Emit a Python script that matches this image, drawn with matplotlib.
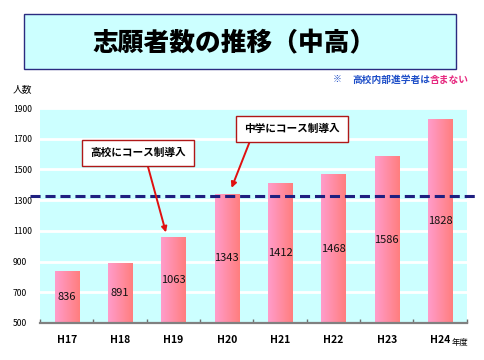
import numpy as np
import matplotlib
matplotlib.use('Agg')
import matplotlib.pyplot as plt
from matplotlib.patches import Rectangle
from matplotlib.colors import LinearSegmentedColormap

plt.rcParams['font.family'] = ['Noto Sans CJK JP', 'DejaVu Sans']

# --- data ---
years = ['H17', 'H18', 'H19', 'H20', 'H21', 'H22', 'H23', 'H24']
applicants = [836, 891, 1063, 1343, 1412, 1468, 1586, 1828]
y_ticks = [500, 700, 900, 1100, 1300, 1500, 1700, 1900]
ref_level = 1330
notes = [('高校にコース制導入', 'H19'), ('中学にコース制導入', 'H20')]

base = 500
fig = plt.figure(figsize=(4.85, 3.6), dpi=100)
fig.patch.set_facecolor('white')

# title box
fig.patches.append(Rectangle((0.0495, 0.808), 0.891, 0.153, transform=fig.transFigure,
                             facecolor='#CCFFFF', edgecolor='#2B2B80', lw=1.0))
fig.text(0.4825, 0.879, '志願者数の推移（中高）', ha='center', va='center',
         fontsize=18.5, fontweight='black', color='black')

# note line
fig.text(0.6866, 0.778, '※', ha='left', va='center', fontsize=6.5, color='#1F4FC8')
fig.text(0.7258, 0.778, '高校内部進学者は', ha='left', va='center', fontsize=7.0,
         fontweight='bold', color='#1F4FC8')
fig.text(0.8866, 0.778, '含まない', ha='left', va='center', fontsize=7.0,
         fontweight='bold', color='#E6287F')
fig.text(0.027, 0.753, '人数', ha='left', va='center', fontsize=7)

ax = fig.add_axes([0.0825, 0.1028, 0.880, 0.597])
ax.set_facecolor('#CCFFFF')
ax.set_axisbelow(True)

x = np.arange(len(years))
vals = np.array(applicants)
bars = ax.bar(x, vals - base, bottom=base, width=0.45, color='none', zorder=2)

cmap = LinearSegmentedColormap.from_list('barfill', ['#FF9CCB', '#FF7E7E'])
grad = np.linspace(0, 1, 64).reshape(1, -1)
for rect, v in zip(bars, vals):
    x0 = rect.get_x()
    x1 = x0 + rect.get_width()
    im = ax.imshow(grad, cmap=cmap, extent=[x0, x1, base, v], aspect='auto',
                   interpolation='bilinear', zorder=2)
    im.set_clip_path(rect)
    ax.text(rect.get_x() + rect.get_width() / 2, (base + v) / 2, str(v),
            ha='center', va='center', fontsize=8, color='#111111', zorder=4)

ax.set_xlim(-0.5, len(years) - 0.5)
ax.set_ylim(y_ticks[0], y_ticks[-1])

ax.set_yticks(y_ticks)
ax.set_yticklabels([str(t) for t in y_ticks], fontsize=6.2)
for lab in ax.get_yticklabels():
    lab.set_ha('left')
ax.tick_params(axis='y', length=0, pad=19.5)
ax.grid(axis='y', color='white', lw=2)

ax.set_xticks(x)
ax.set_xticklabels(years, fontsize=7.5, fontweight='bold')
ax.set_xticks(np.arange(-0.5, len(years)), minor=True)
ax.tick_params(axis='x', which='major', length=0, pad=9)
ax.tick_params(axis='x', which='minor', length=3, direction='in', color='#707070', width=1)

for s in ['left', 'right', 'top']:
    ax.spines[s].set_visible(False)
ax.spines['bottom'].set_color('#808080')
ax.spines['bottom'].set_linewidth(1.6)

# reference dashed line
ax.axhline(ref_level, xmin=-0.023, xmax=1.02, color='#1F1F80', lw=2.2,
           dashes=(3.3, 1.6), clip_on=False, zorder=5)

fig.text(0.931, 0.05, '年度', ha='left', va='center', fontsize=6.0)

# annotations
box = dict(boxstyle='square,pad=0.75', fc='white', ec='#B01818', lw=1.0)
pos = {'H19': ((years.index('H19') - 0.14, 1090), (0.2845, 0.575), 0.58),
       'H20': ((years.index('H20') + 0.09, 1380), (0.602, 0.642), 0.09)}
for text, yr in notes:
    xy, xytext, rx = pos[yr]
    ax.annotate(text, xy=xy, xytext=xytext, textcoords='figure fraction',
                ha='center', va='center', fontsize=7.7, fontweight='bold',
                bbox=box, zorder=6,
                arrowprops=dict(arrowstyle='-|>', color='#E01010', lw=1.4,
                                mutation_scale=8, relpos=(rx, 0), shrinkA=0, shrinkB=0))

fig.savefig('out.png', dpi=100)
